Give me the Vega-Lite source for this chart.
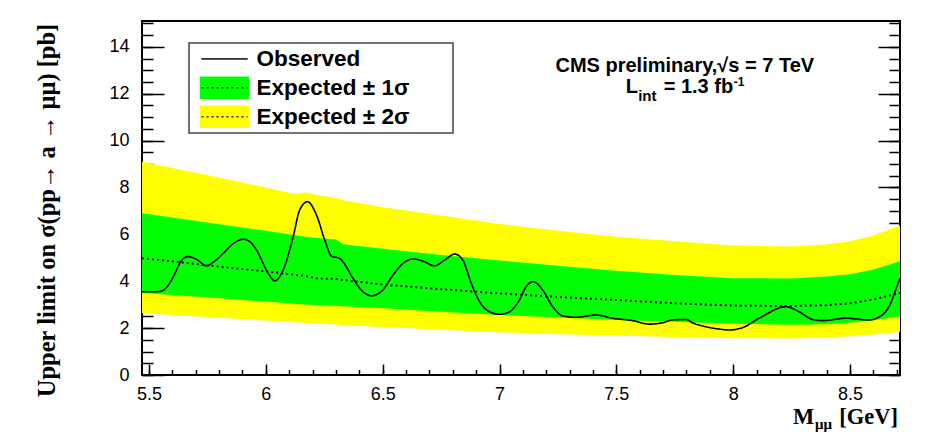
{
  "$schema": "https://vega.github.io/schema/vega-lite/v6.json",
  "width": 758,
  "height": 354,
  "autosize": {"type": "none"},
  "padding": {"left": 142, "top": 21, "right": 33, "bottom": 66},
  "background": "white",
  "config": {
    "view": {"stroke": "black", "strokeWidth": 2},
    "axis": {"grid": false, "domain": false, "tickColor": "black", "tickWidth": 1.5, "labelFont": "Liberation Sans", "labelFontSize": 18, "labelColor": "black"}
  },
  "datasets": {
    "bands": [
      {"x": 5.47, "lo2": 2.64, "lo1": 3.5, "exp": 4.98, "hi1": 6.9, "hi2": 9.1},
      {"x": 5.6, "lo2": 2.56, "lo1": 3.41, "exp": 4.85, "hi1": 6.72, "hi2": 8.83},
      {"x": 5.8, "lo2": 2.44, "lo1": 3.27, "exp": 4.62, "hi1": 6.43, "hi2": 8.42},
      {"x": 6.0, "lo2": 2.32, "lo1": 3.13, "exp": 4.42, "hi1": 6.15, "hi2": 8.0},
      {"x": 6.12, "lo2": 2.25, "lo1": 3.04, "exp": 4.28, "hi1": 5.97, "hi2": 7.72},
      {"x": 6.17, "lo2": 2.22, "lo1": 3.01, "exp": 4.22, "hi1": 5.9, "hi2": 7.78},
      {"x": 6.22, "lo2": 2.19, "lo1": 2.98, "exp": 4.12, "hi1": 5.84, "hi2": 7.68},
      {"x": 6.3, "lo2": 2.15, "lo1": 2.95, "exp": 4.1, "hi1": 5.78, "hi2": 7.55},
      {"x": 6.33, "lo2": 2.13, "lo1": 2.93, "exp": 4.05, "hi1": 5.58, "hi2": 7.45},
      {"x": 6.5, "lo2": 2.05, "lo1": 2.85, "exp": 3.86, "hi1": 5.38, "hi2": 7.16},
      {"x": 6.75, "lo2": 1.93, "lo1": 2.7, "exp": 3.66, "hi1": 5.12, "hi2": 6.8},
      {"x": 7.0, "lo2": 1.82, "lo1": 2.56, "exp": 3.48, "hi1": 4.88, "hi2": 6.44},
      {"x": 7.25, "lo2": 1.74, "lo1": 2.45, "exp": 3.33, "hi1": 4.66, "hi2": 6.15},
      {"x": 7.5, "lo2": 1.68, "lo1": 2.35, "exp": 3.2, "hi1": 4.45, "hi2": 5.9},
      {"x": 7.75, "lo2": 1.62, "lo1": 2.27, "exp": 3.06, "hi1": 4.27, "hi2": 5.7},
      {"x": 8.0, "lo2": 1.57, "lo1": 2.19, "exp": 2.96, "hi1": 4.13, "hi2": 5.52},
      {"x": 8.25, "lo2": 1.56, "lo1": 2.14, "exp": 2.94, "hi1": 4.12, "hi2": 5.48},
      {"x": 8.4, "lo2": 1.6, "lo1": 2.17, "exp": 2.98, "hi1": 4.2, "hi2": 5.58},
      {"x": 8.5, "lo2": 1.65, "lo1": 2.23, "exp": 3.06, "hi1": 4.3, "hi2": 5.7},
      {"x": 8.6, "lo2": 1.73, "lo1": 2.34, "exp": 3.22, "hi1": 4.5, "hi2": 5.95},
      {"x": 8.714, "lo2": 1.85, "lo1": 2.5, "exp": 3.5, "hi1": 4.85, "hi2": 6.38}
    ],
    "obs": [
      {"x": 5.47, "y": 3.55}, {"x": 5.52, "y": 3.55}, {"x": 5.554, "y": 3.58}, {"x": 5.58, "y": 3.8},
      {"x": 5.604, "y": 4.19}, {"x": 5.64, "y": 4.9}, {"x": 5.668, "y": 5.05}, {"x": 5.7, "y": 4.95},
      {"x": 5.747, "y": 4.66}, {"x": 5.78, "y": 4.85}, {"x": 5.818, "y": 5.19}, {"x": 5.86, "y": 5.6},
      {"x": 5.903, "y": 5.79}, {"x": 5.93, "y": 5.7}, {"x": 5.96, "y": 5.33}, {"x": 6.01, "y": 4.34},
      {"x": 6.038, "y": 4.02}, {"x": 6.074, "y": 4.48}, {"x": 6.117, "y": 5.9}, {"x": 6.145, "y": 7.04},
      {"x": 6.178, "y": 7.39}, {"x": 6.217, "y": 6.82}, {"x": 6.252, "y": 5.76}, {"x": 6.281, "y": 5.07},
      {"x": 6.316, "y": 4.97}, {"x": 6.33, "y": 4.83}, {"x": 6.373, "y": 4.12}, {"x": 6.416, "y": 3.55},
      {"x": 6.452, "y": 3.38}, {"x": 6.5, "y": 3.62}, {"x": 6.544, "y": 4.26}, {"x": 6.587, "y": 4.76},
      {"x": 6.629, "y": 4.95}, {"x": 6.672, "y": 4.86}, {"x": 6.722, "y": 4.66}, {"x": 6.765, "y": 4.9},
      {"x": 6.808, "y": 5.16}, {"x": 6.843, "y": 4.9}, {"x": 6.879, "y": 3.91}, {"x": 6.915, "y": 3.13},
      {"x": 6.957, "y": 2.7}, {"x": 7.0, "y": 2.59}, {"x": 7.043, "y": 2.7}, {"x": 7.085, "y": 3.2},
      {"x": 7.114, "y": 3.77}, {"x": 7.145, "y": 3.98}, {"x": 7.185, "y": 3.62}, {"x": 7.228, "y": 2.91},
      {"x": 7.271, "y": 2.52}, {"x": 7.328, "y": 2.46}, {"x": 7.413, "y": 2.56}, {"x": 7.484, "y": 2.42},
      {"x": 7.57, "y": 2.32}, {"x": 7.641, "y": 2.17}, {"x": 7.698, "y": 2.23}, {"x": 7.741, "y": 2.35},
      {"x": 7.798, "y": 2.37}, {"x": 7.826, "y": 2.23}, {"x": 7.883, "y": 2.06}, {"x": 7.94, "y": 1.96},
      {"x": 7.983, "y": 1.92}, {"x": 8.04, "y": 2.02}, {"x": 8.111, "y": 2.42}, {"x": 8.225, "y": 2.91},
      {"x": 8.282, "y": 2.7}, {"x": 8.339, "y": 2.37}, {"x": 8.382, "y": 2.32}, {"x": 8.481, "y": 2.42},
      {"x": 8.581, "y": 2.35}, {"x": 8.638, "y": 2.56}, {"x": 8.674, "y": 3.06}, {"x": 8.695, "y": 3.62},
      {"x": 8.714, "y": 4.12}
    ]
  },
  "resolve": {"axis": {"x": "independent", "y": "independent"}},
  "layer": [
    {
      "data": {"name": "bands"},
      "mark": {"type": "area"},
      "encoding": {
        "x": {"field": "x", "type": "quantitative",
          "scale": {"domain": [5.47, 8.714], "nice": false, "zero": false},
          "axis": {"orient": "bottom", "title": null, "values": [5.5, 6, 6.5, 7, 7.5, 8, 8.5], "format": "~g", "tickSize": -11, "labelPadding": 21, "labelFlush": false}},
        "y": {"field": "lo2", "type": "quantitative",
          "scale": {"domain": [0, 15.1], "nice": false, "zero": false},
          "axis": {"orient": "left", "values": [0, 2, 4, 6, 8, 10, 12, 14], "format": "d", "tickSize": -22, "labelPadding": 35,
            "title": "Upper limit on σ(pp→ a → μμ) [pb]", "titleFont": "Liberation Serif", "titleFontWeight": "bold", "titleFontSize": 24.5, "titleColor": "black",
            "titleX": -95, "titleY": 189, "titleAngle": 270, "titleAlign": "center", "titleBaseline": "middle"}},
        "y2": {"field": "hi2"},
        "color": {"datum": "Expected ± 2σ", "type": "nominal",
          "scale": {"domain": ["Observed", "Expected ± 1σ", "Expected ± 2σ"], "range": ["black", "#00ff00", "#ffff00"]},
          "legend": {"orient": "none", "legendX": 47, "legendY": 22, "padding": 2, "clipHeight": 27.5, "rowPadding": 1,
            "title": ".", "titleOrient": "right", "titleColor": "transparent", "titleFontSize": 2, "titlePadding": 41,
            "symbolSize": 1600, "symbolOffset": 12.5, "labelOffset": 11, "labelLimit": 0,
            "labelFont": "Liberation Sans", "labelFontWeight": "bold", "labelFontSize": 22.5, "labelColor": "black",
            "strokeColor": "#444444",
            "encode": {
              "legend": {"update": {"strokeWidth": {"value": 1.5}}},
              "symbols": {"update": {
                "shape": {"signal": "datum.value === 'Observed' ? 'M-1.15,0H1.15' : 'M-1.2,-0.525H1.2V0.525H-1.2Z'"},
                "fill": {"signal": "datum.value === 'Observed' ? 'transparent' : (datum.value === 'Expected ± 1σ' ? '#00ff00' : '#ffff00')"},
                "stroke": {"value": "transparent"},
                "opacity": {"value": 1}
              }}
            }}}
      }
    },
    {
      "data": {"name": "bands"},
      "mark": {"type": "area"},
      "encoding": {
        "x": {"field": "x", "type": "quantitative",
          "axis": {"orient": "bottom", "title": null, "labels": false, "tickSize": -5.5,
            "values": [5.5, 5.6, 5.7, 5.8, 5.9, 6.0, 6.1, 6.2, 6.3, 6.4, 6.5, 6.6, 6.7, 6.8, 6.9, 7.0, 7.1, 7.2, 7.3, 7.4, 7.5, 7.6, 7.7, 7.8, 7.9, 8.0, 8.1, 8.2, 8.3, 8.4, 8.5, 8.6, 8.7]}},
        "y": {"field": "lo1", "type": "quantitative",
          "axis": {"orient": "left", "title": null, "labels": false, "tickSize": -11,
            "values": [0, 0.5, 1, 1.5, 2, 2.5, 3, 3.5, 4, 4.5, 5, 5.5, 6, 6.5, 7, 7.5, 8, 8.5, 9, 9.5, 10, 10.5, 11, 11.5, 12, 12.5, 13, 13.5, 14, 14.5, 15]}},
        "y2": {"field": "hi1"},
        "color": {"datum": "Expected ± 1σ", "type": "nominal"}
      }
    },
    {
      "data": {"name": "bands"},
      "mark": {"type": "line", "color": "black", "strokeWidth": 2},
      "encoding": {
        "x": {"field": "x", "type": "quantitative", "axis": null},
        "y": {"field": "exp", "type": "quantitative",
          "axis": {"orient": "right", "title": null, "labels": false, "tickSize": -22, "values": [0, 2, 4, 6, 8, 10, 12, 14]}},
        "strokeDash": {"datum": "Expected ± 1σ ", "type": "nominal",
          "scale": {"domain": ["Observed ", "Expected ± 1σ ", "Expected ± 2σ "], "range": [[1, 0], [2, 3], [2, 3]]},
          "legend": {"orient": "none", "legendX": 47, "legendY": 22, "title": null, "padding": 2, "clipHeight": 27.5, "rowPadding": 1,
            "symbolSize": 1600, "symbolOffset": 12.5, "labelOffset": 11, "labelLimit": 0,
            "labelFont": "Liberation Sans", "labelFontWeight": "bold", "labelFontSize": 22.5, "labelColor": "transparent",
            "symbolStrokeColor": "black", "symbolStrokeWidth": 1.5, "symbolFillColor": "transparent",
            "encode": {"symbols": {"update": {
              "shape": {"value": "M-1.15,0H1.15"},
              "stroke": {"signal": "datum.value === 'Observed ' ? '#333333' : '#222222'"},
              "opacity": {"value": 1}
            }}}}}
      }
    },
    {
      "data": {"name": "obs"},
      "mark": {"type": "line", "strokeWidth": 1.6, "interpolate": "monotone"},
      "encoding": {
        "x": {"field": "x", "type": "quantitative", "axis": null},
        "y": {"field": "y", "type": "quantitative",
          "axis": {"orient": "right", "title": null, "labels": false, "tickSize": -11,
            "values": [0, 0.5, 1, 1.5, 2, 2.5, 3, 3.5, 4, 4.5, 5, 5.5, 6, 6.5, 7, 7.5, 8, 8.5, 9, 9.5, 10, 10.5, 11, 11.5, 12, 12.5, 13, 13.5, 14, 14.5, 15]}},
        "color": {"datum": "Observed", "type": "nominal"},
        "strokeDash": {"datum": "Observed ", "type": "nominal"}
      }
    },
    {
      "data": {"values": [{}]},
      "mark": {"type": "text", "text": "CMS preliminary,√s = 7 TeV", "font": "Liberation Sans", "fontWeight": "bold", "fontSize": 20, "align": "center", "baseline": "alphabetic", "color": "black"},
      "encoding": {"x": {"datum": 7.793, "type": "quantitative", "axis": null}, "y": {"datum": 12.94, "type": "quantitative", "axis": null}}
    },
    {
      "data": {"values": [{}]},
      "mark": {"type": "text", "text": "L", "font": "Liberation Sans", "fontWeight": "bold", "fontSize": 20, "align": "left", "baseline": "alphabetic", "color": "black"},
      "encoding": {"x": {"datum": 7.54, "type": "quantitative", "axis": null}, "y": {"datum": 12.03, "type": "quantitative", "axis": null}}
    },
    {
      "data": {"values": [{}]},
      "mark": {"type": "text", "text": "int", "font": "Liberation Sans", "fontWeight": "bold", "fontSize": 15, "align": "left", "baseline": "alphabetic", "color": "black", "dx": 12.5, "dy": 8},
      "encoding": {"x": {"datum": 7.54, "type": "quantitative", "axis": null}, "y": {"datum": 12.03, "type": "quantitative", "axis": null}}
    },
    {
      "data": {"values": [{}]},
      "mark": {"type": "text", "text": "= 1.3 fb", "font": "Liberation Sans", "fontWeight": "bold", "fontSize": 20, "align": "left", "baseline": "alphabetic", "color": "black", "dx": 38},
      "encoding": {"x": {"datum": 7.54, "type": "quantitative", "axis": null}, "y": {"datum": 12.03, "type": "quantitative", "axis": null}}
    },
    {
      "data": {"values": [{}]},
      "mark": {"type": "text", "text": "-1", "font": "Liberation Sans", "fontWeight": "bold", "fontSize": 12, "align": "left", "baseline": "alphabetic", "color": "black", "dx": 108, "dy": -7},
      "encoding": {"x": {"datum": 7.54, "type": "quantitative", "axis": null}, "y": {"datum": 12.03, "type": "quantitative", "axis": null}}
    },
    {
      "data": {"values": [{}]},
      "mark": {"type": "text", "text": "[GeV]", "font": "Liberation Serif", "fontWeight": "bold", "fontSize": 22.5, "align": "right", "baseline": "alphabetic", "color": "black", "dx": -2, "dy": 49},
      "encoding": {"x": {"datum": 8.714, "type": "quantitative", "axis": null}, "y": {"datum": 0, "type": "quantitative", "axis": null}}
    },
    {
      "data": {"values": [{}]},
      "mark": {"type": "text", "text": "μμ", "font": "Liberation Serif", "fontWeight": "bold", "fontSize": 15, "align": "left", "baseline": "alphabetic", "color": "black", "dx": -85, "dy": 54},
      "encoding": {"x": {"datum": 8.714, "type": "quantitative", "axis": null}, "y": {"datum": 0, "type": "quantitative", "axis": null}}
    },
    {
      "data": {"values": [{}]},
      "mark": {"type": "text", "text": "M", "font": "Liberation Serif", "fontWeight": "bold", "fontSize": 22.5, "align": "left", "baseline": "alphabetic", "color": "black", "dx": -107, "dy": 49},
      "encoding": {"x": {"datum": 8.714, "type": "quantitative", "axis": null}, "y": {"datum": 0, "type": "quantitative", "axis": null}}
    }
  ]
}
